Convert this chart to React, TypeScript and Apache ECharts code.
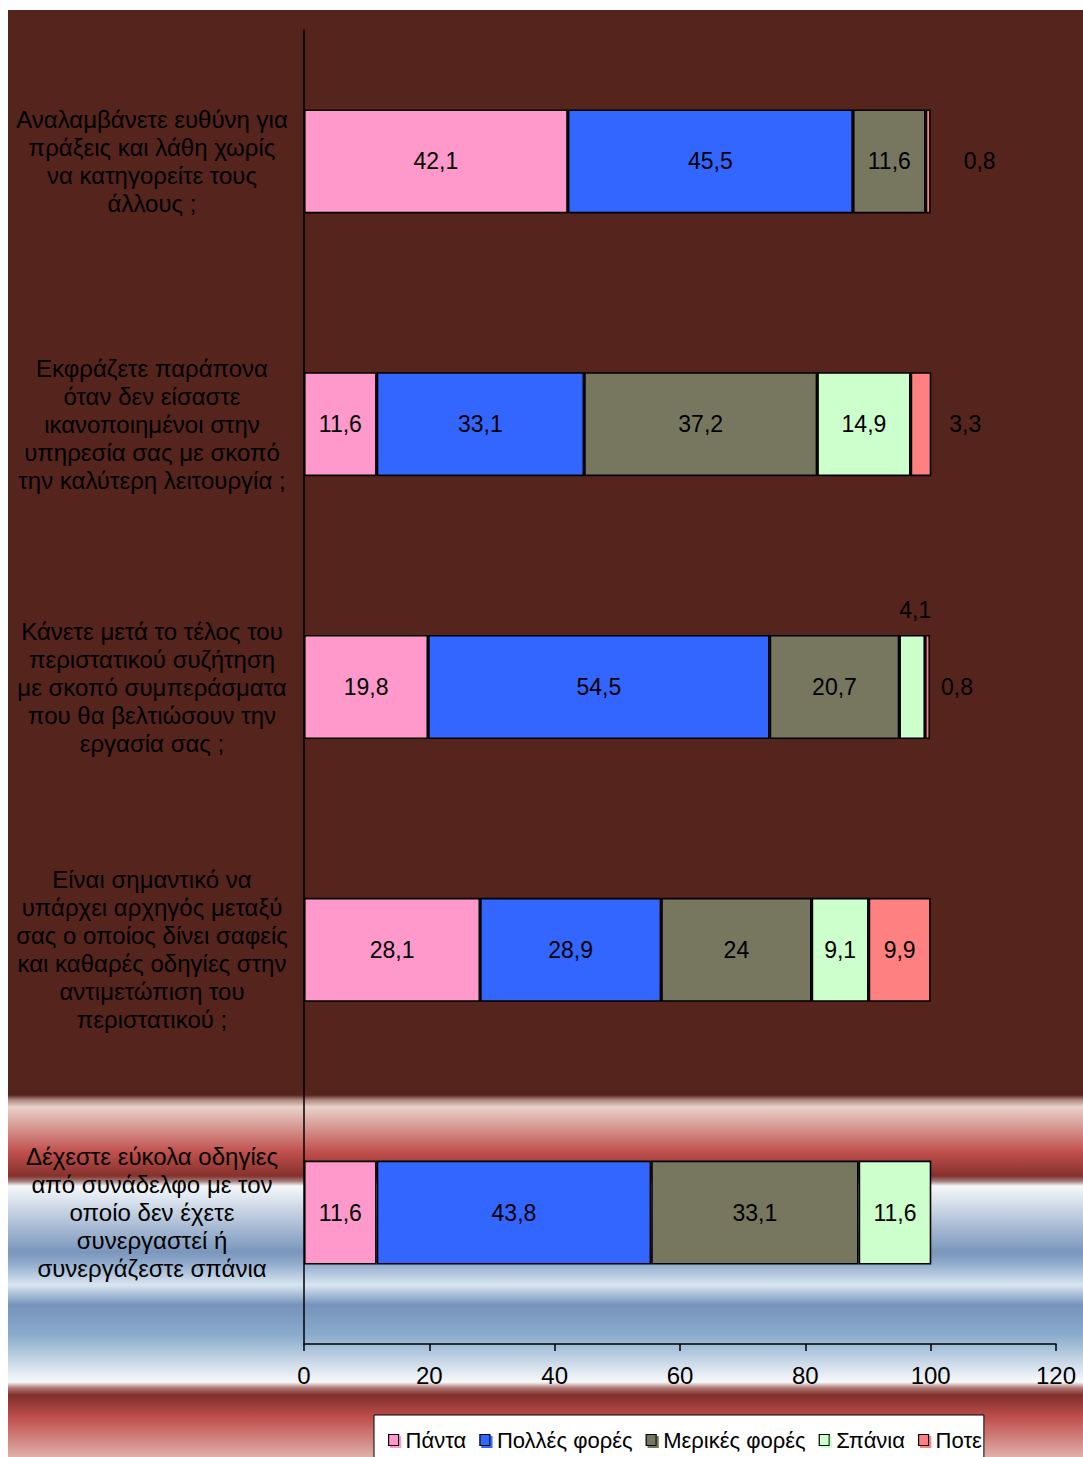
import React, { useEffect, useRef } from "react";
import * as echarts from "echarts";

const categories = [
  "Αναλαμβάνετε ευθύνη για\nπράξεις και λάθη χωρίς\nνα κατηγορείτε τους\nάλλους ;",
  "Εκφράζετε παράπονα\nόταν δεν είσαστε\nικανοποιημένοι στην\nυπηρεσία σας με σκοπό\nτην καλύτερη λειτουργία ;",
  "Κάνετε μετά το τέλος του\nπεριστατικού συζήτηση\nμε σκοπό συμπεράσματα\nπου θα βελτιώσουν την\nεργασία σας ;",
  "Είναι σημαντικό να\nυπάρχει αρχηγός μεταξύ\nσας ο οποίος δίνει σαφείς\nκαι καθαρές οδηγίες στην\nαντιμετώπιση του\nπεριστατικού ;",
  "Δέχεστε εύκολα οδηγίες\nαπό συνάδελφο με τον\nοποίο δεν έχετε\nσυνεργαστεί ή\nσυνεργάζεστε σπάνια",
];

const seriesNames = ["Πάντα", "Πολλές φορές", "Μερικές φορές", "Σπάνια", "Ποτε"];
const pantaValues = [42.1, 11.6, 19.8, 28.1, 11.6];
const pollesValues = [45.5, 33.1, 54.5, 28.9, 43.8];
const merikesValues = [11.6, 37.2, 20.7, 24, 33.1];
const spaniaValues = [0, 14.9, 4.1, 9.1, 11.6];
const poteValues = [0.8, 3.3, 0.8, 9.9, 0];

const xTicks = { min: 0, max: 120, interval: 20 };

const colors = ["#ff99cc", "#3366ff", "#777760", "#ccffcc", "#ff8080"];

// label overrides for tiny segments (series index - category index)
const outsideLabels: Record<string, any> = {
  "4-0": { position: "right", distance: 33 },
  "4-1": { position: "right", distance: 18 },
  "4-2": { position: "right", distance: 11 },
  "3-2": { position: "top", distance: 14, offset: [3, 0] },
};

const fmt = (v: number) => String(v).replace(".", ",");

export default function App() {
  const ref = useRef<HTMLDivElement>(null);
  useEffect(() => {
    if (!ref.current) return;
    const chart = echarts.init(ref.current, undefined, { renderer: "svg" });
    const all = [pantaValues, pollesValues, merikesValues, spaniaValues, poteValues];
    const H = 1447;
    const s = (py: number) => (py - 10) / H;
    const bg = {
      type: "linear",
      x: 0,
      y: 0,
      x2: 0,
      y2: 1,
      colorStops: [
        { offset: 0, color: "#55241d" },
        { offset: s(1095), color: "#55241d" },
        { offset: s(1100), color: "#b08a84" },
        { offset: s(1107), color: "#e8d2ca" },
        { offset: s(1152), color: "#c0504d" },
        { offset: s(1176), color: "#85312c" },
        { offset: s(1181), color: "#a07a78" },
        { offset: s(1186), color: "#f5f8fb" },
        { offset: s(1252), color: "#7a96bc" },
        { offset: s(1263), color: "#90aacb" },
        { offset: s(1285), color: "#d8e5f0" },
        { offset: s(1305), color: "#7693bb" },
        { offset: s(1335), color: "#8aaccc" },
        { offset: s(1382), color: "#f8f9fb" },
        { offset: s(1388), color: "#b07874" },
        { offset: s(1395), color: "#7f2f2a" },
        { offset: s(1418), color: "#c0504d" },
        { offset: 1, color: "#e0b0aa" },
      ],
    };
    const series = seriesNames.map((name, si) => ({
      name,
      type: "bar",
      stack: "total",
      barWidth: 104,
      itemStyle: { color: colors[si], borderColor: "#000", borderWidth: 1.6 },
      label: {
        show: true,
        position: "inside",
        color: "#000",
        fontSize: 23,
        fontFamily: "Liberation Sans",
        formatter: (p: any) => (p.value ? fmt(p.value) : ""),
      },
      data: all[si].map((v, ci) => {
        if (!v) return "-";
        const o = outsideLabels[`${si}-${ci}`];
        return o ? { value: v, label: o } : v;
      }),
    }));
    chart.setOption({
      animation: false,
      backgroundColor: bg,
      textStyle: { fontFamily: "Liberation Sans" },
      grid: { left: 296, right: 27, top: 20, bottom: 113, containLabel: false },
      legend: {
        data: seriesNames.map((name, i) => ({
          name,
          itemStyle: {
            color: colors[i],
            borderColor: "#000",
            borderWidth: 1.2,
            shadowColor: colors[i],
            shadowOffsetX: 2,
            shadowOffsetY: 2,
            shadowBlur: 0,
          },
        })),
        left: 366,
        top: 1405,
        backgroundColor: "#fff",
        borderColor: "#000",
        borderWidth: 1,
        padding: [14, 2, 20, 14],
        itemGap: 13,
        itemWidth: 10,
        itemHeight: 11,
        icon: "rect",
        textStyle: { fontSize: 22, color: "#000", fontFamily: "Liberation Sans", padding: [0, 0, 0, 2] },
      },
      xAxis: {
        type: "value",
        min: xTicks.min,
        max: xTicks.max,
        interval: xTicks.interval,
        axisLine: { show: true, lineStyle: { color: "#000", width: 1.5 } },
        axisTick: { show: true, length: 7, lineStyle: { color: "#000", width: 1.5 } },
        axisLabel: { color: "#000", fontSize: 24, margin: 19, fontFamily: "Liberation Sans" },
        splitLine: { show: false },
      },
      yAxis: {
        type: "category",
        inverse: true,
        data: categories,
        axisLine: { show: true, lineStyle: { color: "#000", width: 1.5 } },
        axisTick: { show: false },
        axisLabel: {
          color: "#000",
          fontSize: 24,
          lineHeight: 28,
          align: "center",
          margin: 152,
          fontFamily: "Liberation Sans",
        },
      },
      series,
    });
    return () => chart.dispose();
  }, []);
  return (
    <div
      ref={ref}
      style={{ position: "absolute", left: 8, top: 10, width: 1075, height: 1447 }}
    />
  );
}
